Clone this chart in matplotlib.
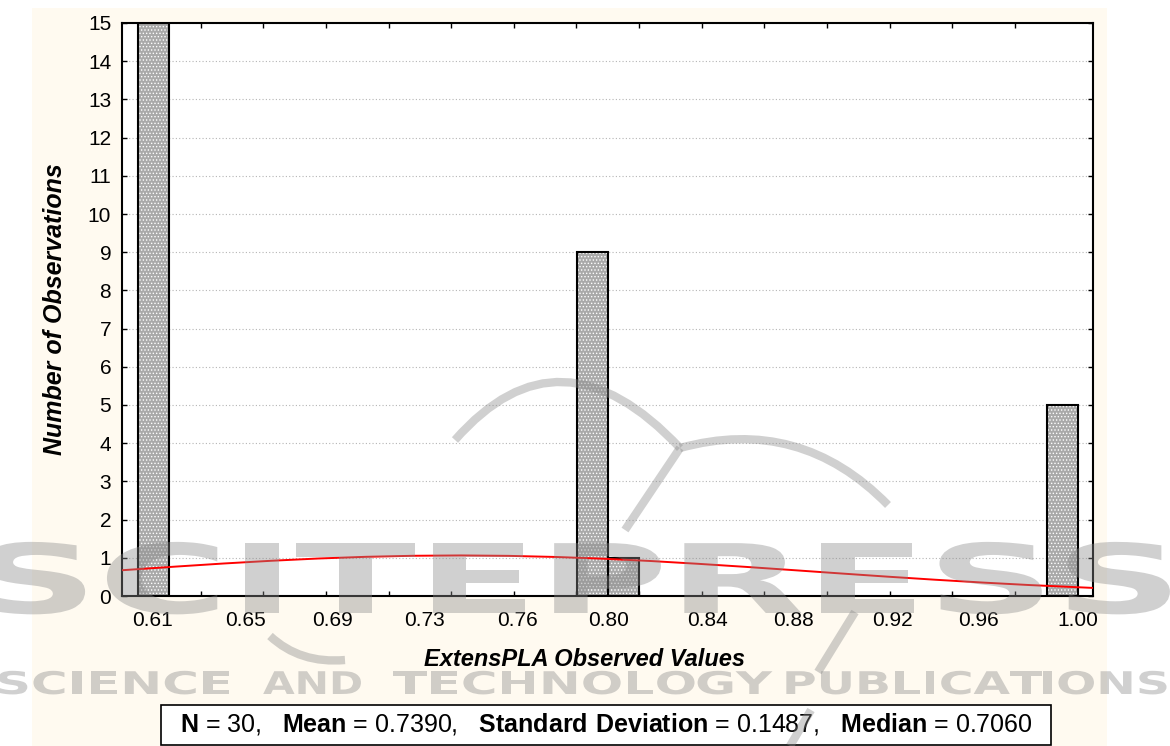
import numpy as np
import matplotlib
matplotlib.use("Agg")
import matplotlib.pyplot as plt
from matplotlib.patches import Rectangle, PathPatch
from matplotlib.path import Path
from matplotlib.patheffects import AbstractPathEffect
from matplotlib.transforms import Affine2D
from matplotlib.font_manager import FontProperties

plt.rcParams['font.family'] = ['Liberation Sans', 'DejaVu Sans']
plt.rcParams['mathtext.fontset'] = 'custom'
plt.rcParams['mathtext.rm'] = 'Liberation Sans'
plt.rcParams['mathtext.bf'] = 'Liberation Sans:bold'
plt.rcParams['hatch.linewidth'] = 0.6


# histogram bins (lower edge) and counts
bin_lower = [0.6038, 0.7888, 0.8020, 0.9870]
counts = [15, 9, 1, 5]
bin_width = 0.01321

# fitted normal curve
curve_x = [0.5972, 0.62, 0.64, 0.66, 0.68, 0.70, 0.72, 0.74, 0.76, 0.78, 0.80,
           0.82, 0.84, 0.86, 0.88, 0.90, 0.92, 0.94, 0.96, 0.98, 1.0068]
curve_y = [0.675, 0.771, 0.851, 0.922, 0.982, 1.026, 1.053, 1.062, 1.051, 1.022, 0.976,
           0.916, 0.843, 0.763, 0.678, 0.591, 0.506, 0.426, 0.352, 0.286, 0.211]

# x tick labels (as printed) and where they sit
tick_pos = [0.6099, 0.6492, 0.6857, 0.7248, 0.7637, 0.8021, 0.8442, 0.8804, 0.9221, 0.9583, 1.0000]
tick_labels = ["0.61", "0.65", "0.69", "0.73", "0.76", "0.80", "0.84", "0.88", "0.92", "0.96", "1.00"]

n_obs = 30
mean = 0.7390
std_dev = 0.1487
median = 0.7060

# publisher watermark
wm_title = "SCITEPRESS"
wm_words = ["SCIENCE", "AND", "TECHNOLOGY", "PUBLICATIONS"]

W, H = 1170, 746
fig = plt.figure(figsize=(W / 100, H / 100), dpi=100)
fig.patch.set_facecolor('white')
fig.patches.append(Rectangle((32 / W, 0), (1107 - 32) / W, (H - 8) / H, transform=fig.transFigure,
                             fc='#fffaf0', ec='none', zorder=-1))

ax = fig.add_axes([122.3 / W, 1 - 596 / H, 971 / W, 573 / H])
ax.set_facecolor('white')

# bars: stipple fill, then black outline
ax.bar(bin_lower, counts, width=bin_width, align='edge', color='#a9a9a9', edgecolor='white',
       hatch='.....', lw=0, zorder=2)
ax.bar(bin_lower, counts, width=bin_width, align='edge', fill=False, edgecolor='black',
       lw=1.5, zorder=3)

ax.plot(curve_x, curve_y, color='red', lw=1.4, zorder=4)

ax.set_xlim(bin_lower[0] - bin_width / 2, bin_lower[0] + 30.5 * bin_width)
ax.set_ylim(0, 15)

ax.set_yticks(range(16))
ax.yaxis.grid(True, ls=(0, (1, 2)), color='#b5b5b5', lw=0.8)
ax.set_axisbelow(True)
ax.tick_params(axis='y', direction='in', length=3.6, width=1, left=True, right=True,
               labelsize=15, pad=8)

ax.set_xticks(tick_pos, tick_labels)
ax.set_xticks(bin_lower[0] + bin_width * np.arange(2, 30, 2), minor=True)
ax.tick_params(axis='x', which='major', length=0, labelsize=15, pad=11)
ax.tick_params(axis='x', which='minor', direction='in', length=3.6, width=1, top=True, bottom=True)

for s in ax.spines.values():
    s.set_linewidth(1.5)

fig.text(55 / W, 1 - 309.5 / H, "Number of Observations", rotation=90, fontsize=18,
         fontweight='bold', style='italic', ha='center', va='center')
fig.text(0.5, 1 - 659 / H, "ExtensPLA Observed Values", fontsize=17,
         fontweight='bold', style='italic', ha='center', va='center')

# summary box
fig.patches.append(Rectangle((161 / W, 1 - 745 / H), 890 / W, 40 / H, transform=fig.transFigure,
                             fc='white', ec='black', lw=1.2, zorder=1))
stats = (r"$\mathbf{N}$ = %d,   $\mathbf{Mean}$ = %.4f,   $\mathbf{Standard\ Deviation}$ = %.4f,"
         r"   $\mathbf{Median}$ = %.4f" % (n_obs, mean, std_dev, median))
fig.text(606 / W, 1 - 724 / H, stats, fontsize=18, ha='center', va='center', zorder=2)


# ---- publisher stamp over the whole figure ----
class HStretch(AbstractPathEffect):
    """draw text widened about a fixed x (display pixels), like the extended logo font"""
    def __init__(self, sx, cx):
        super().__init__()
        self.sx = sx
        self.cx = cx

    def draw_path(self, renderer, gc, tpath, affine, rgbFace=None):
        t = affine + Affine2D().translate(-self.cx, 0).scale(self.sx, 1).translate(self.cx, 0)
        renderer.draw_path(gc, tpath, t, rgbFace)


wm_color = '#8a8a8a'
wm_alpha = 0.40
renderer = fig.canvas.get_renderer()


def wide_word(s, x0, x1, baseline, size):
    # letters laid out as in the word, then widened to span x0..x1
    prop = FontProperties(family='DejaVu Sans', weight='bold', size=size)

    def wpx(txt):
        return renderer.get_text_width_height_descent(txt, prop, ismath=False)[0] if txt else 0.0

    sx = (x1 - x0) / wpx(s)
    for i, ch in enumerate(s):
        cx = x0 + sx * (wpx(s[:i]) + wpx(ch) / 2)
        t = fig.text(cx / W, 1 - baseline / H, ch, fontproperties=prop, color=wm_color,
                     alpha=wm_alpha, ha='center', va='baseline', zorder=10)
        t.set_path_effects([HStretch(sx, cx)])


wide_word(wm_title, -30, 1175, 613, 69)
word_boxes = [(-5, 233), (263, 363), (393, 771), (782, 1170)]
for word, (x0, x1) in zip(wm_words, word_boxes):
    wide_word(word, x0, x1, 694, 22.5)

px = Affine2D().scale(1 / W, -1 / H).translate(0, 1) + fig.transFigure
swoosh = [
    Path([(455, 440), (560, 320), (680, 448)], [Path.MOVETO, Path.CURVE3, Path.CURVE3]),
    Path([(680, 448), (625, 530)]),
    Path([(680, 448), (800, 415), (888, 505)], [Path.MOVETO, Path.CURVE3, Path.CURVE3]),
    Path([(270, 636), (300, 664), (345, 660)], [Path.MOVETO, Path.CURVE3, Path.CURVE3]),
    Path([(855, 612), (818, 672)]),
    Path([(811, 710), (790, 746)]),
]
for p in swoosh:
    fig.add_artist(PathPatch(p, transform=px, fc='none', ec=wm_color, lw=6,
                             alpha=wm_alpha, capstyle='butt', zorder=10))

fig.savefig("out.png", dpi=100)
